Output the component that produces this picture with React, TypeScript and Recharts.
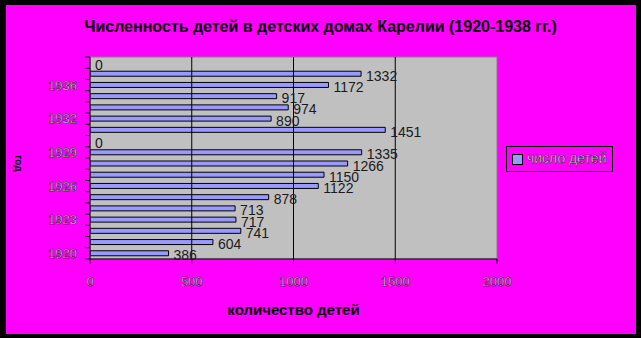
import { BarChart, Bar, Cell, XAxis, YAxis, ReferenceArea, ReferenceLine, LabelList, Label, Legend } from 'recharts'

const years = [
  '1920', '1921', '1922', '1923', '1924', '1925', '1926', '1927', '1928', '1929',
  '1930', '1931', '1932', '1933', '1934', '1936', '1937', '1938',
]
const children = [386, 604, 741, 717, 713, 878, 1122, 1150, 1266, 1335, 0, 1451, 890, 974, 917, 1172, 1332, 0]
const xTicks = [0, 500, 1000, 1500, 2000]
const gridLines = [500, 1000, 1500]

const data = years.map((year, i) => ({ year, children: children[i] }))

const font = 'Arial, "Liberation Sans", sans-serif'
const BAND = 202 / years.length

const YTick = (props: any) => {
  const { x, y, index } = props
  return (
    <g>
      <line x1={x - 5} x2={x} y1={y - BAND / 2} y2={y - BAND / 2} stroke="#000" />
      {index === 0 && <line x1={x - 5} x2={x} y1={y + BAND / 2} y2={y + BAND / 2} stroke="#000" />}
      {index % 3 === 0 && (
        <text x={x - 13} y={y} dy="0.36em" textAnchor="end" fontSize={13} fontFamily={font}
          fill="#fff" stroke="#000" strokeWidth={0.45}>
          {years[index]}
        </text>
      )}
    </g>
  )
}

const ValueLabel = (props: any) => {
  const { x, y, width, height, value } = props
  const w = value === 0 ? 0 : width
  return (
    <text x={x + w + 5} y={y + height / 2 + 2} dy="0.36em" fontSize={14} fontFamily={font} fill="#1a1a1a">
      {value}
    </text>
  )
}

const LegendBox = () => (
  <div style={{
    width: 107, height: 26, border: '1px solid #000', boxSizing: 'border-box',
    display: 'flex', alignItems: 'center', fontFamily: font,
  }}>
    <span style={{ width: 9, height: 9, background: '#9999FF', border: '1px solid #000', marginLeft: 5, marginRight: 4 }} />
    <svg width={86} height={18}>
      <text x={0} y={13} fontSize={14} fontFamily={font} fill="#fff" stroke="#000" strokeWidth={0.45}>число детей</text>
    </svg>
  </div>
)

export default function App() {
  return (
    <div style={{ position: 'absolute', left: 0, top: 0, width: 641, height: 338, background: '#000' }}>
      <div style={{ position: 'absolute', left: 6, top: 5, width: 630, height: 329, background: '#FF00FF' }} />
      <div style={{
        position: 'absolute', left: 0, top: 18, width: 641, textAlign: 'center',
        fontFamily: font, fontWeight: 'bold', fontSize: 16, color: '#000',
      }}>
        Численность детей в детских домах Карелии (1920-1938 гг.)
      </div>
      <div style={{
        position: 'absolute', left: 3, top: 158, width: 30, textAlign: 'center',
        fontFamily: font, fontWeight: 'bold', fontSize: 10, transform: 'rotate(90deg)',
      }}>
        год
      </div>
      <div style={{ position: 'absolute', left: 0, top: 0 }}>
        <BarChart width={641} height={338} data={data} layout="vertical"
          margin={{ top: 57, right: 144, bottom: 0, left: 0 }} barCategoryGap={3}>
          <ReferenceArea x1={0} x2={2000} fill="#C0C0C0" fillOpacity={1} stroke="#808080" />
          {gridLines.map((v) => (
            <ReferenceLine key={v} x={v} stroke="#000" />
          ))}
          <XAxis type="number" domain={[0, 2000]} ticks={xTicks} height={79}
            axisLine={{ stroke: '#000' }} tickLine={{ stroke: '#000' }} tickSize={5} tickMargin={13}
            tick={{ fontSize: 13, fontFamily: font, fill: '#fff', stroke: '#000', strokeWidth: 0.45 }}>
            <Label value="количество детей" position="insideBottom" offset={23}
              style={{ fontSize: 15, fontFamily: font, fontWeight: 'bold', fill: '#000' }} />
          </XAxis>
          <YAxis type="category" dataKey="year" reversed width={90} interval={0}
            axisLine={{ stroke: '#000' }} tickLine={false} tickSize={0} tickMargin={0} tick={<YTick />} />
          <Legend content={<LegendBox />} layout="horizontal" verticalAlign="middle" align="center"
            wrapperStyle={{ position: 'absolute', left: 506, top: 146, width: 107, height: 26 }} />
          <Bar dataKey="children" name="число детей" fill="#9999FF" stroke="#000" strokeWidth={1}
            barSize={5} minPointSize={1} isAnimationActive={false}>
            {children.map((v, i) => (
              <Cell key={i} stroke={v === 0 ? 'none' : '#000'} fill={v === 0 ? 'none' : '#9999FF'} />
            ))}
            <LabelList dataKey="children" content={<ValueLabel />} />
          </Bar>
        </BarChart>
      </div>
    </div>
  )
}
